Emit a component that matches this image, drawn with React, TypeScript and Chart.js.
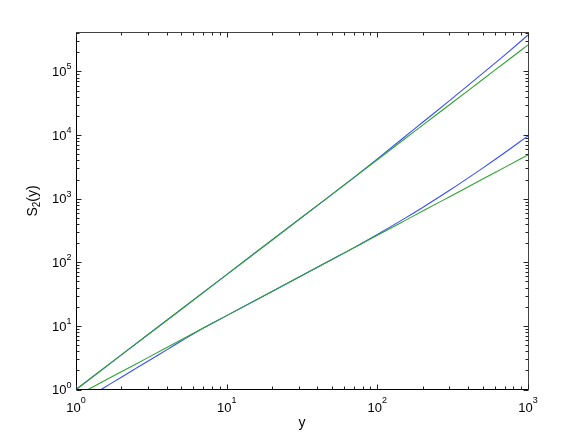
import React, { useEffect, useRef } from "react";
import { Chart, registerables } from "chart.js";

Chart.register(...registerables);

// ---- data ----
const upperX = [1, 2, 5, 10, 20, 50, 70, 100, 150, 200, 300, 500, 700, 1000];
const upperGreen = [1, 3.5, 18.3, 64, 224, 1171, 2148, 4093, 8511, 14320, 29720, 74820, 137400, 261800];
const upperBlue = [1, 3.5, 18.3, 64, 224, 1171, 2168, 4236, 9162, 15890, 34440, 93110, 181100, 374100];

const lowerGreenX = [1.2, 1.5, 2, 3, 5, 7, 10, 20, 50, 70, 100, 150, 200, 300, 500, 700, 1000];
const lowerGreen = [1, 1.32, 1.9, 3.17, 6.05, 9.25, 14.5, 34.8, 111, 169, 266, 444, 638, 1065, 2032, 3105, 4875];

const lowerBlueX = [1.47, 1.7, 2, 2.5, 3, 4, 5, 7, 10, 20, 50, 70, 100, 150, 200, 300, 500, 700, 1000];
const lowerBlue = [1, 1.236, 1.562, 2.15, 2.79, 4.2, 5.77, 9.24, 14.5, 34.8, 111, 170, 274, 481, 729, 1343, 3027, 5272, 9727];

const xTickExponents = [0, 1, 2, 3];
const yTickExponents = [0, 1, 2, 3, 4, 5];
const xMin = 1;
const xMax = 1000;
const yMin = 1;
const yMax = 4.1e5;

const xTitle = "y";
const yTitleMain = "S";
const yTitleSub = "2";
const yTitleRest = "(y)";

const BLUE = "#3550f8";
const GREEN = "#2fa32f";
const FONT = '"Liberation Sans", Arial, Helvetica, sans-serif';

function toPoints(xs: number[], ys: number[]) {
  return xs.map((x, i) => ({ x, y: ys[i] }));
}

const axesPlugin = {
  id: "matlabAxes",
  afterDraw(chart: any) {
    const { ctx, chartArea: a, scales } = chart;
    const xs = scales.x;
    const ys = scales.y;
    const L = Math.floor(a.left) + 0.5;
    const R = Math.floor(a.right) + 0.5;
    const T = Math.floor(a.top) + 0.5;
    const B = Math.floor(a.bottom) + 0.5;
    ctx.save();
    ctx.lineWidth = 1;
    // top / right frame (lighter), bottom / left axes (dark)
    ctx.strokeStyle = "#444";
    ctx.beginPath();
    ctx.moveTo(L, T);
    ctx.lineTo(R, T);
    ctx.lineTo(R, B);
    ctx.stroke();
    ctx.strokeStyle = "#000";
    ctx.beginPath();
    ctx.moveTo(L, T);
    ctx.lineTo(L, B);
    ctx.lineTo(R, B);
    ctx.stroke();

    ctx.strokeStyle = "#222";
    ctx.beginPath();
    // x ticks
    for (let e = 0; e <= 3; e++) {
      for (let k = 1; k <= 9; k++) {
        const v = k * Math.pow(10, e);
        if (v > xMax + 1e-9) break;
        const px = Math.round(xs.getPixelForValue(v)) + 0.5;
        const len = k === 1 ? 5 : 3;
        ctx.moveTo(px, B);
        ctx.lineTo(px, B - len);
        ctx.moveTo(px, T);
        ctx.lineTo(px, T + len);
      }
    }
    // y ticks
    for (let e = 0; e <= 5; e++) {
      for (let k = 1; k <= 9; k++) {
        const v = k * Math.pow(10, e);
        if (v > yMax + 1e-9) break;
        const py = Math.round(ys.getPixelForValue(v)) + 0.5;
        const len = k === 1 ? 5 : 3;
        ctx.moveTo(L, py);
        ctx.lineTo(L + len, py);
        ctx.moveTo(R, py);
        ctx.lineTo(R - len, py);
      }
    }
    ctx.stroke();

    ctx.fillStyle = "#000";
    ctx.textBaseline = "alphabetic";
    // x tick labels
    for (const e of xTickExponents) {
      const px = xs.getPixelForValue(Math.pow(10, e));
      ctx.font = `13px ${FONT}`;
      const w1 = ctx.measureText("10").width;
      ctx.font = `9px ${FONT}`;
      const w2 = ctx.measureText(String(e)).width;
      const start = px - (w1 + w2) / 2;
      ctx.textAlign = "left";
      ctx.font = `13px ${FONT}`;
      ctx.fillText("10", start, 412);
      ctx.font = `9px ${FONT}`;
      ctx.fillText(String(e), start + w1, 402.5);
    }
    // y tick labels
    for (const e of yTickExponents) {
      const py = ys.getPixelForValue(Math.pow(10, e));
      ctx.font = `9px ${FONT}`;
      const w2 = ctx.measureText(String(e)).width;
      const right = 71.5;
      ctx.textAlign = "left";
      ctx.fillText(String(e), right - w2, py - 2);
      ctx.textAlign = "right";
      ctx.font = `13px ${FONT}`;
      ctx.fillText("10", right - w2, py + 4.7);
    }

    // x title
    ctx.textAlign = "center";
    ctx.font = `14px ${FONT}`;
    ctx.fillText(xTitle, (a.left + a.right) / 2, 426.5);

    // y title (rotated)
    ctx.translate(36.5, 201);
    ctx.rotate(-Math.PI / 2);
    ctx.textAlign = "left";
    ctx.font = `14px ${FONT}`;
    const wS = ctx.measureText(yTitleMain).width;
    const wR = ctx.measureText(yTitleRest).width;
    ctx.font = `10px ${FONT}`;
    const wSub = ctx.measureText(yTitleSub).width;
    const total = wS + wSub + wR;
    let x0 = -total / 2;
    ctx.font = `14px ${FONT}`;
    ctx.fillText(yTitleMain, x0, 0);
    x0 += wS;
    ctx.font = `10px ${FONT}`;
    ctx.fillText(yTitleSub, x0, 3);
    x0 += wSub;
    ctx.font = `14px ${FONT}`;
    ctx.fillText(yTitleRest, x0, 0);
    ctx.restore();
  },
};

export default function App() {
  const ref = useRef<HTMLCanvasElement | null>(null);
  useEffect(() => {
    if (!ref.current) return;
    const lineDs = (label: string, data: any[], color: string, order: number) => ({
      label,
      data,
      borderColor: color,
      backgroundColor: color,
      borderWidth: 1.1,
      pointRadius: 0,
      fill: false,
      cubicInterpolationMode: "monotone" as const,
      order,
    });
    const chart = new Chart(ref.current, {
      type: "line",
      data: {
        datasets: [
          lineDs("upper green", toPoints(upperX, upperGreen), GREEN, 0),
          lineDs("lower green", toPoints(lowerGreenX, lowerGreen), GREEN, 1),
          lineDs("upper blue", toPoints(upperX, upperBlue), BLUE, 2),
          lineDs("lower blue", toPoints(lowerBlueX, lowerBlue), BLUE, 3),
        ],
      },
      options: {
        animation: false,
        responsive: false,
        events: [],
        layout: { padding: { left: 76, right: 56, top: 32.5, bottom: 49.5 } },
        plugins: {
          legend: { display: false },
          tooltip: { enabled: false },
          title: { display: false },
        },
        scales: {
          x: { type: "logarithmic", min: xMin, max: xMax, display: false },
          y: { type: "logarithmic", min: yMin, max: yMax, display: false },
        },
      },
      plugins: [axesPlugin],
    });
    return () => chart.destroy();
  }, []);
  return (
    <div style={{ position: "absolute", left: 0, top: 0, width: 584, height: 439, background: "#fff" }}>
      <canvas ref={ref} width={584} height={439} style={{ display: "block" }} />
    </div>
  );
}
